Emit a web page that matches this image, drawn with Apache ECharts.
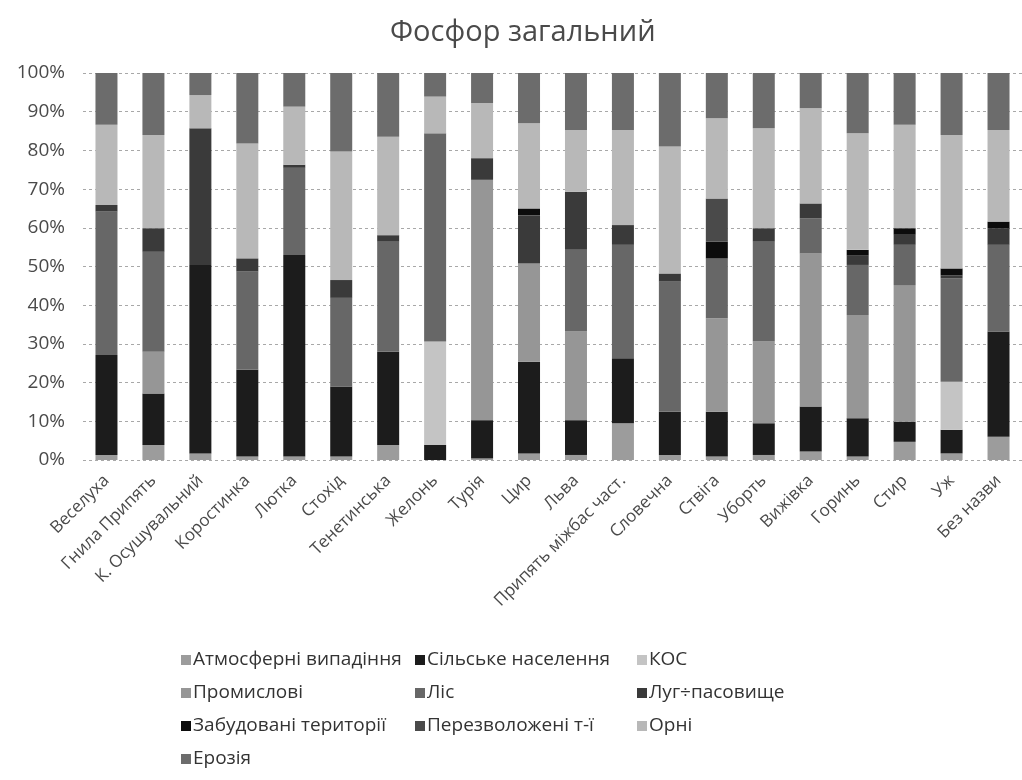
<!DOCTYPE html>
<html>
<head>
<meta charset="utf-8">
<script src="https://cdn.jsdelivr.net/npm/echarts@6/dist/echarts.min.js"></script>
<style>
  html, body { margin: 0; padding: 0; background: #fff; }
  #chart { width: 1022px; height: 780px; }
</style>
</head>
<body>
<div id="chart"></div>
<script>
// Basins (x axis)
const categories = ['Веселуха', 'Гнила Припять', 'К. Осушувальний', 'Коростинка', 'Лютка', 'Стохід',
  'Тенетинська', 'Желонь', 'Турія', 'Цир', 'Льва', 'Припять міжбас част.', 'Словечна', 'Ствіга',
  'Уборть', 'Вижівка', 'Горинь', 'Стир', 'Уж', 'Без назви'];

// Share of total phosphorus load by source, %
const atmosferni   = [1.3, 3.9, 1.7, 0.9, 0.9, 0.9, 3.9, 0.0, 0.4, 1.7, 1.3, 9.5, 1.3, 0.9, 1.3, 2.2, 0.9, 4.7, 1.7, 6.0];
const silske       = [25.8, 13.3, 48.7, 22.4, 52.1, 18.1, 24.1, 3.9, 9.9, 23.7, 9.0, 16.8, 11.2, 11.6, 8.2, 11.6, 9.9, 5.2, 6.1, 27.2];
const kos          = [0, 0, 0, 0, 0, 0, 0, 26.7, 0, 0, 0, 0, 0, 0, 0, 0, 0, 0, 12.4, 0];
const promyslovi   = [0, 10.8, 0, 0, 0, 0, 0, 0, 62.1, 25.4, 22.9, 0, 0, 24.1, 21.1, 39.6, 26.7, 35.3, 0, 0];
const lis          = [37.1, 25.8, 0, 25.4, 22.5, 22.9, 28.4, 53.8, 0, 0, 21.1, 29.3, 33.6, 15.5, 25.8, 9.0, 12.9, 10.4, 26.7, 22.4];
const luh          = [1.7, 6.1, 35.3, 3.4, 0.8, 4.6, 1.7, 0, 5.6, 12.4, 15.0, 5.1, 2.1, 0, 3.5, 3.9, 2.4, 2.6, 0.8, 4.3];
const zabudovani   = [0, 0, 0, 0, 0, 0, 0, 0, 0, 1.8, 0, 0, 0, 4.3, 0, 0, 1.5, 1.7, 1.8, 1.7];
const perezvolozh  = [0, 0, 0, 0, 0, 0, 0, 0, 0, 0, 0, 0, 0, 11.2, 0, 0, 0, 0, 0, 0];
const orni         = [20.7, 24.1, 8.6, 29.7, 15.0, 33.2, 25.4, 9.5, 14.2, 22.0, 16.0, 24.6, 32.8, 20.7, 25.8, 24.6, 30.1, 26.7, 34.5, 23.7];
const eroziia      = [13.4, 16.0, 5.7, 18.2, 8.7, 20.3, 16.5, 6.1, 7.8, 13.0, 14.7, 14.7, 19.0, 11.7, 14.3, 9.1, 15.6, 13.4, 16.0, 14.7];

const yTicks = [0, 10, 20, 30, 40, 50, 60, 70, 80, 90, 100];

const seriesDefs = [
  { name: 'Атмосферні випадіння', data: atmosferni,  color: '#9c9c9c' },
  { name: 'Сільське населення',   data: silske,      color: '#1c1c1c' },
  { name: 'КОС',                  data: kos,         color: '#c4c4c4' },
  { name: 'Промислові',           data: promyslovi,  color: '#969696' },
  { name: 'Ліс',                  data: lis,         color: '#676767' },
  { name: 'Луг÷пасовище',         data: luh,         color: '#3a3a3a' },
  { name: 'Забудовані території', data: zabudovani,  color: '#0c0c0c' },
  { name: 'Перезволожені т-ї',    data: perezvolozh, color: '#4a4a4a' },
  { name: 'Орні',                 data: orni,        color: '#b8b8b8' },
  { name: 'Ерозія',               data: eroziia,     color: '#6c6c6c' }
];

const font = '"Open Sans", "Noto Sans", sans-serif';
const textColor = '#4a4a4a';

function legendColumn(names, left) {
  return {
    orient: 'vertical',
    left: left,
    top: 645,
    itemWidth: 10,
    itemHeight: 10,
    itemGap: 13,
    icon: 'rect',
    selectedMode: false,
    data: names,
    textStyle: { fontFamily: font, fontSize: 19, color: '#333', lineHeight: 20, padding: [0, 0, 0, -3] }
  };
}

const chart = echarts.init(document.getElementById('chart'), null, { renderer: 'canvas' });
chart.setOption({
  animation: false,
  backgroundColor: '#fff',
  title: {
    text: 'Фосфор загальний',
    left: 385,
    top: 13,
    textStyle: { fontFamily: font, fontSize: 29, fontWeight: 'normal', color: textColor }
  },
  legend: [
    legendColumn(['Атмосферні випадіння', 'Промислові', 'Забудовані території', 'Ерозія'], 176),
    legendColumn(['Сільське населення', 'Ліс', 'Перезволожені т-ї'], 410),
    legendColumn(['КОС', 'Луг÷пасовище', 'Орні'], 632)
  ],
  grid: { left: 83, top: 73, width: 950, height: 387 },
  xAxis: {
    type: 'category',
    data: categories,
    axisTick: { show: false },
    axisLine: { show: false },
    axisLabel: {
      rotate: 45,
      interval: 0,
      margin: 18,
      fontFamily: font,
      fontSize: 17,
      color: textColor
    }
  },
  yAxis: {
    type: 'value',
    min: 0,
    max: 100,
    interval: 10,
    axisLine: { show: false },
    axisTick: { show: false },
    axisLabel: {
      formatter: v => yTicks.includes(v) ? v + '%' : '',
      margin: 18,
      fontFamily: font,
      fontSize: 19,
      color: textColor
    },
    splitLine: { lineStyle: { color: '#a8a8a8', type: [3, 3], width: 1 } }
  },
  series: seriesDefs.map(s => ({
    name: s.name,
    type: 'bar',
    stack: 'total',
    barWidth: 22,
    data: s.data,
    itemStyle: { color: s.color }
  }))
});
</script>
</body>
</html>
